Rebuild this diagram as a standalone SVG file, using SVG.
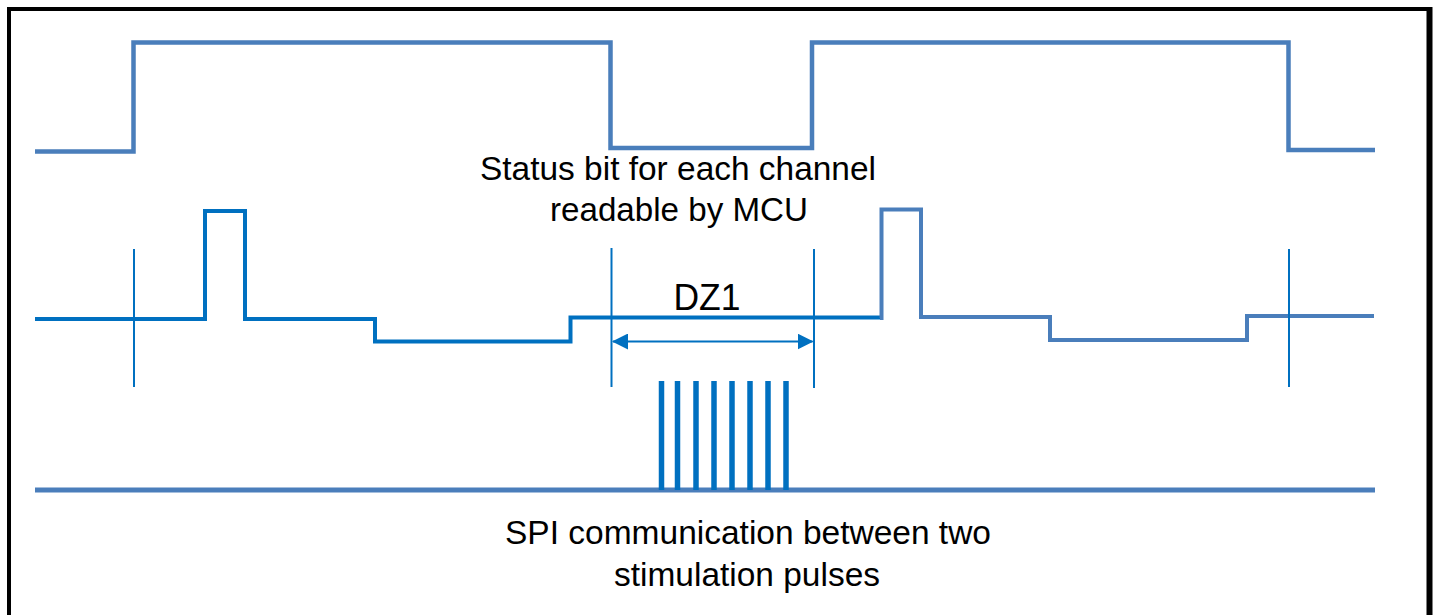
<svg xmlns="http://www.w3.org/2000/svg" width="1440" height="615" viewBox="0 0 1440 615">
  <defs>
    <style>
      .wave-a { fill: none; stroke: #4A7EBB; stroke-width: 4.5; stroke-linejoin: miter; }
      .wave-b { fill: none; stroke: #0070C0; stroke-width: 4; stroke-linejoin: miter; }
      .marker { stroke: #0070C0; stroke-width: 2; }
      .bar { stroke: #0070C0; stroke-width: 5.5; }
      .lbl { font-family: "Liberation Sans", Arial, sans-serif; fill: #000; text-anchor: middle; }
    </style>
    <marker id="ah" viewBox="0 0 16 16" refX="15" refY="8" markerWidth="16" markerHeight="16" markerUnits="userSpaceOnUse" orient="auto-start-reverse">
      <path d="M0,0 L16,8 L0,16 Z" fill="#0070C0"/>
    </marker>
  </defs>
  <rect x="0" y="0" width="1440" height="615" fill="#fff"/>
  <g id="frame">
    <rect x="9" y="9" width="1420" height="640" fill="none" stroke="#000" stroke-width="4"/>
    <line x1="1429.5" y1="7" x2="1429.5" y2="615" stroke="#000" stroke-width="6"/>
  </g>
  <g id="status-signal">
    <path class="wave-a" d="M35,151.5 H133.5 V42.5 H610.5 V148 H812 V42.5 H1288.5 V150 H1375"/>
  </g>
  <g id="stimulation-signal">
    <path class="wave-b" d="M35,319 H205 V211 H245 V319 H375 V341.5 H570.5 V317.5 H882"/>
    <path class="wave-a" d="M880,318 H881.5 V209.5 H921 V317 H1050 V340 H1247 V316 H1374" style="stroke-width:4"/>
  </g>
  <g id="markers">
    <line class="marker" x1="134" y1="249" x2="134" y2="387"/>
    <line class="marker" x1="611.5" y1="248" x2="611.5" y2="387"/>
    <line class="marker" x1="814" y1="249" x2="814" y2="388"/>
    <line class="marker" x1="1289" y1="249" x2="1289" y2="387"/>
  </g>
  <g id="connectors">
    <line x1="613" y1="341.5" x2="812.5" y2="341.5" stroke="#0070C0" stroke-width="2" marker-start="url(#ah)" marker-end="url(#ah)"/>
  </g>
  <g id="spi-signal">
    <line x1="35" y1="490" x2="1375" y2="490" stroke="#4A7EBB" stroke-width="5"/>
    <line class="bar" x1="661.5" y1="381" x2="661.5" y2="490"/>
    <line class="bar" x1="677.5" y1="381" x2="677.5" y2="490"/>
    <line class="bar" x1="696" y1="381" x2="696" y2="490"/>
    <line class="bar" x1="714" y1="381" x2="714" y2="490"/>
    <line class="bar" x1="732" y1="381" x2="732" y2="490"/>
    <line class="bar" x1="750" y1="381" x2="750" y2="490"/>
    <line class="bar" x1="768" y1="381" x2="768" y2="490"/>
    <line class="bar" x1="786" y1="381" x2="786" y2="490"/>
  </g>
  <g id="labels">
    <text class="lbl" x="678" y="180" font-size="33" textLength="396" lengthAdjust="spacingAndGlyphs">Status bit for each channel</text>
    <text class="lbl" x="679" y="221" font-size="33" textLength="258" lengthAdjust="spacingAndGlyphs">readable by MCU</text>
    <text class="lbl" x="707" y="310" font-size="36" textLength="67" lengthAdjust="spacingAndGlyphs">DZ1</text>
    <text class="lbl" x="748" y="544" font-size="33" textLength="486" lengthAdjust="spacingAndGlyphs">SPI communication between two</text>
    <text class="lbl" x="747" y="586" font-size="33" textLength="266" lengthAdjust="spacingAndGlyphs">stimulation pulses</text>
  </g>
</svg>
